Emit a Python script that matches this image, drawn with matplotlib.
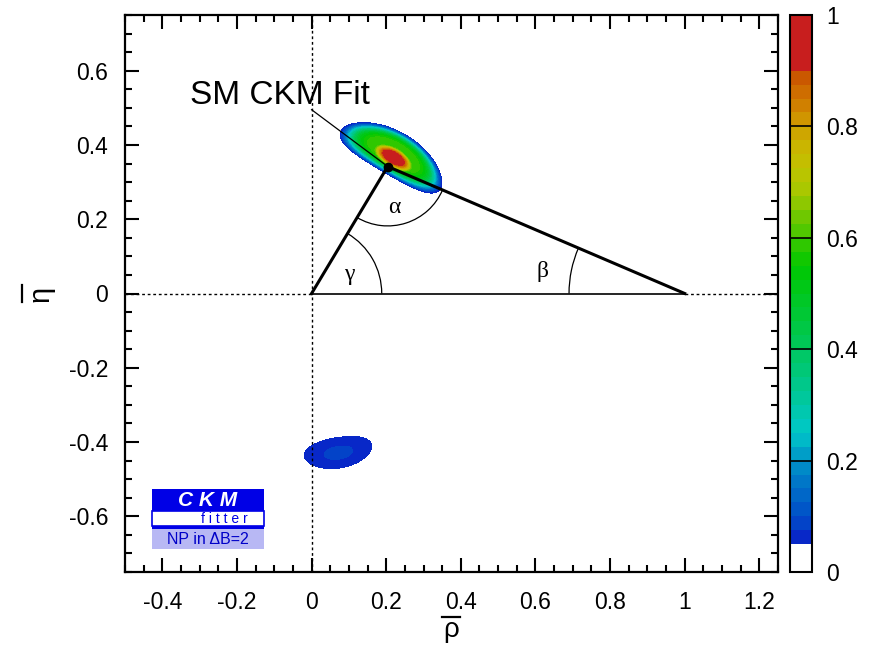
import numpy as np
import matplotlib
matplotlib.use('Agg')
import matplotlib.pyplot as plt
from matplotlib.colors import LinearSegmentedColormap, to_hex
from matplotlib.patches import Arc, Rectangle
from matplotlib.lines import Line2D
from matplotlib.ticker import MultipleLocator, FuncFormatter

plt.rcParams['font.family'] = ['Liberation Sans', 'DejaVu Sans']
plt.rcParams['axes.unicode_minus'] = False

# === data ===
apex = [0.204, 0.342]          # (rho, eta) of the triangle apex
label_anchor = [0.0, 0.495]    # start of pointer line from the label
# blobs in polar coords about the origin:
# radius, angle (deg), radius width, angle width (deg), peak CL, flatness
plateau_blob = [0.438, 59.5, 0.0350, 12.4, 0.6, 3.0]
peak_blob = [0.427, 59.0, 0.021, 6.5, 1.0, 1.5]
mirror_blob = [0.435, -80.5, 0.036, 10.6, 0.076, 2.0]

cl_levels = np.append(np.append([0.0], np.linspace(0.05, 0.9, 35)), 1.0)
anchor_cl = [0.05, 0.1, 0.15, 0.2, 0.25, 0.3, 0.35, 0.45, 0.55, 0.6, 0.65,
             0.7, 0.75, 0.8, 0.85, 0.9]
anchor_col = ['#0a1ec8', '#0050c8', '#0070c8', '#0094c8', '#00c8c8', '#00c8a6',
              '#00c880', '#00c83c', '#00c800', '#40c800', '#80c800',
              '#b4c800', '#c8bc00', '#d0a000', '#d07800', '#c85000']
red_top = '#c81e1e'

xticks = [-0.4, -0.2, 0, 0.2, 0.4, 0.6, 0.8, 1, 1.2]
yticks = [-0.6, -0.4, -0.2, 0, 0.2, 0.4, 0.6]
cb_ticks = [0, 0.2, 0.4, 0.6, 0.8, 1]


def blob(r, phi, pars):
    r0, p0, sr, sp, peak, k = pars
    d2 = ((r - r0) / sr) ** 2 + ((phi - p0) / sp) ** 2
    return peak * np.exp(-(d2 / 2) ** k)


# grid for the CL surface
rho = np.linspace(-0.5, 1.25, 700)
eta = np.linspace(-0.75, 0.75, 600)
RR, EE = np.meshgrid(rho, eta)
R = np.hypot(RR, EE)
PHI = np.degrees(np.arctan2(EE, RR))
CL = np.maximum.reduce([blob(R, PHI, plateau_blob), blob(R, PHI, peak_blob),
                        blob(R, PHI, mirror_blob)])

# colours for every CL band
cmap_in = LinearSegmentedColormap.from_list(
    'ckm', [((c - 0.05) / 0.85, col) for c, col in zip(anchor_cl, anchor_col)])
mids = 0.5 * (cl_levels[1:-2] + cl_levels[2:-1])
band_cols = ['white'] + [to_hex(cmap_in((m - 0.05) / 0.85)) for m in mids] + [red_top]

fig = plt.figure(figsize=(8.72, 6.46), dpi=100)
ax = fig.add_axes([125 / 872, 74 / 646, 653 / 872, 557 / 646])
cax = fig.add_axes([790 / 872, 74 / 646, 22 / 872, 557 / 646])

cs = ax.contourf(RR, EE, CL, levels=cl_levels, colors=band_cols, zorder=1)

# reference lines
ax.plot([-0.5, 0], [0, 0], ls=(0, (2, 2)), color='black', lw=1, zorder=3)
ax.plot([1, 1.25], [0, 0], ls=(0, (2, 2)), color='black', lw=1, zorder=3)
ax.plot([0, 1], [0, 0], color='black', lw=1.2, zorder=3)
ax.plot([0, 0], [-0.75, 0.75], ls=(0, (2, 2)), color='black', lw=1, zorder=3)

# triangle sides
ax.plot([0, apex[0], 1], [0, apex[1], 0], color='black', lw=2.2, zorder=4)
ax.plot(apex[0], apex[1], 'o', color='black', ms=6, zorder=5)
ax.plot([label_anchor[0], apex[0]], [label_anchor[1], apex[1]],
        color='black', lw=0.9, zorder=4)

# angle arcs
ang_apex = np.degrees(np.arctan2(apex[1], apex[0]))
ang_a1 = np.degrees(np.arctan2(-apex[1], 1 - apex[0])) % 360
ang_a2 = np.degrees(np.arctan2(-apex[1], -apex[0])) % 360
ax.add_patch(Arc((0, 0), 0.376, 0.376, theta1=0, theta2=ang_apex,
                 color='black', lw=0.9, zorder=4))
ax.add_patch(Arc(tuple(apex), 0.32, 0.32, theta1=ang_a2, theta2=ang_a1,
                 color='black', lw=0.9, zorder=4))
ax.add_patch(Arc((1, 0), 0.62, 0.62, theta1=180 - (360 - ang_a1), theta2=180,
                 color='black', lw=0.9, zorder=4))

greek = dict(fontsize=17, family=['Liberation Serif', 'DejaVu Serif'],
             ha='center', va='center', zorder=6)
ax.text(0.223, 0.232, '\u03b1', **greek)
ax.text(0.100, 0.050, '\u03b3', **greek)
ax.text(0.620, 0.060, '\u03b2', **greek)

ax.text(-0.326, 0.532, 'SM CKM Fit', fontsize=24, ha='left', va='center', zorder=6)

# axes styling
ax.set_xlim(-0.5, 1.25)
ax.set_ylim(-0.75, 0.75)
ax.set_xticks(xticks)
ax.set_yticks(yticks)
ax.xaxis.set_minor_locator(MultipleLocator(0.05))
ax.yaxis.set_minor_locator(MultipleLocator(0.05))
fmt = FuncFormatter(lambda v, p: '%g' % round(v, 2))
ax.xaxis.set_major_formatter(fmt)
ax.yaxis.set_major_formatter(fmt)
ax.tick_params(which='both', direction='in', top=True, right=True, width=1.5,
               labelsize=16.5)
ax.tick_params(which='major', length=10)
ax.tick_params(axis='x', which='major', pad=14)
ax.tick_params(axis='y', which='major', pad=12)
ax.tick_params(which='minor', length=5)
for s in ax.spines.values():
    s.set_linewidth(1.6)

# axis titles: upright greek letters with a bar
fig.text(451 / 872, 1 - 630 / 646, '\u03c1', fontsize=20, ha='center', va='center')
fig.add_artist(Line2D([442 / 872, 460 / 872], [1 - 617 / 646, 1 - 617 / 646],
                      transform=fig.transFigure, color='black', lw=1.6))
fig.text(41 / 872, 1 - 294 / 646, '\u03b7', fontsize=21, ha='center', va='center',
         rotation=90)
fig.add_artist(Line2D([22 / 872, 22 / 872], [1 - 285 / 646, 1 - 302 / 646],
                      transform=fig.transFigure, color='black', lw=1.6))

# colour bar
cb = fig.colorbar(cs, cax=cax, spacing='proportional', ticks=cb_ticks)
cb.set_ticklabels(['0', '0.2', '0.4', '0.6', '0.8', '1'])
cb.ax.tick_params(length=0, labelsize=16.5, pad=10)
cb.outline.set_linewidth(1.5)
for t in cb_ticks[1:-1]:
    cb.ax.axhline(t, color='black', lw=1.2)

# CKMfitter logo
def fbox(x0, y0, x1, y1, **kw):
    fig.add_artist(Rectangle((x0 / 872, 1 - y1 / 646), (x1 - x0) / 872,
                             (y1 - y0) / 646, transform=fig.transFigure, **kw))

fbox(152, 489, 264, 511, facecolor='#0000e6', edgecolor='none')
fbox(152, 511, 264, 526, facecolor='white', edgecolor='#0000e6', lw=1.2)
fbox(152, 526, 264, 529, facecolor='#0000e6', edgecolor='none')
fbox(152, 529, 264, 549, facecolor='#b8b8f4', edgecolor='none')
fig.text(208 / 872, 1 - 500 / 646, 'C K M', color='white', fontsize=15,
         style='italic', weight='bold', ha='center', va='center')
fig.text(224 / 872, 1 - 519 / 646, 'f i t t e r', color='#0000e6', fontsize=10,
         ha='center', va='center')
fig.text(208 / 872, 1 - 539 / 646, 'NP in \u0394B=2', color='#0000c8', fontsize=11.5,
         ha='center', va='center')

fig.savefig('out.png', dpi=100)
